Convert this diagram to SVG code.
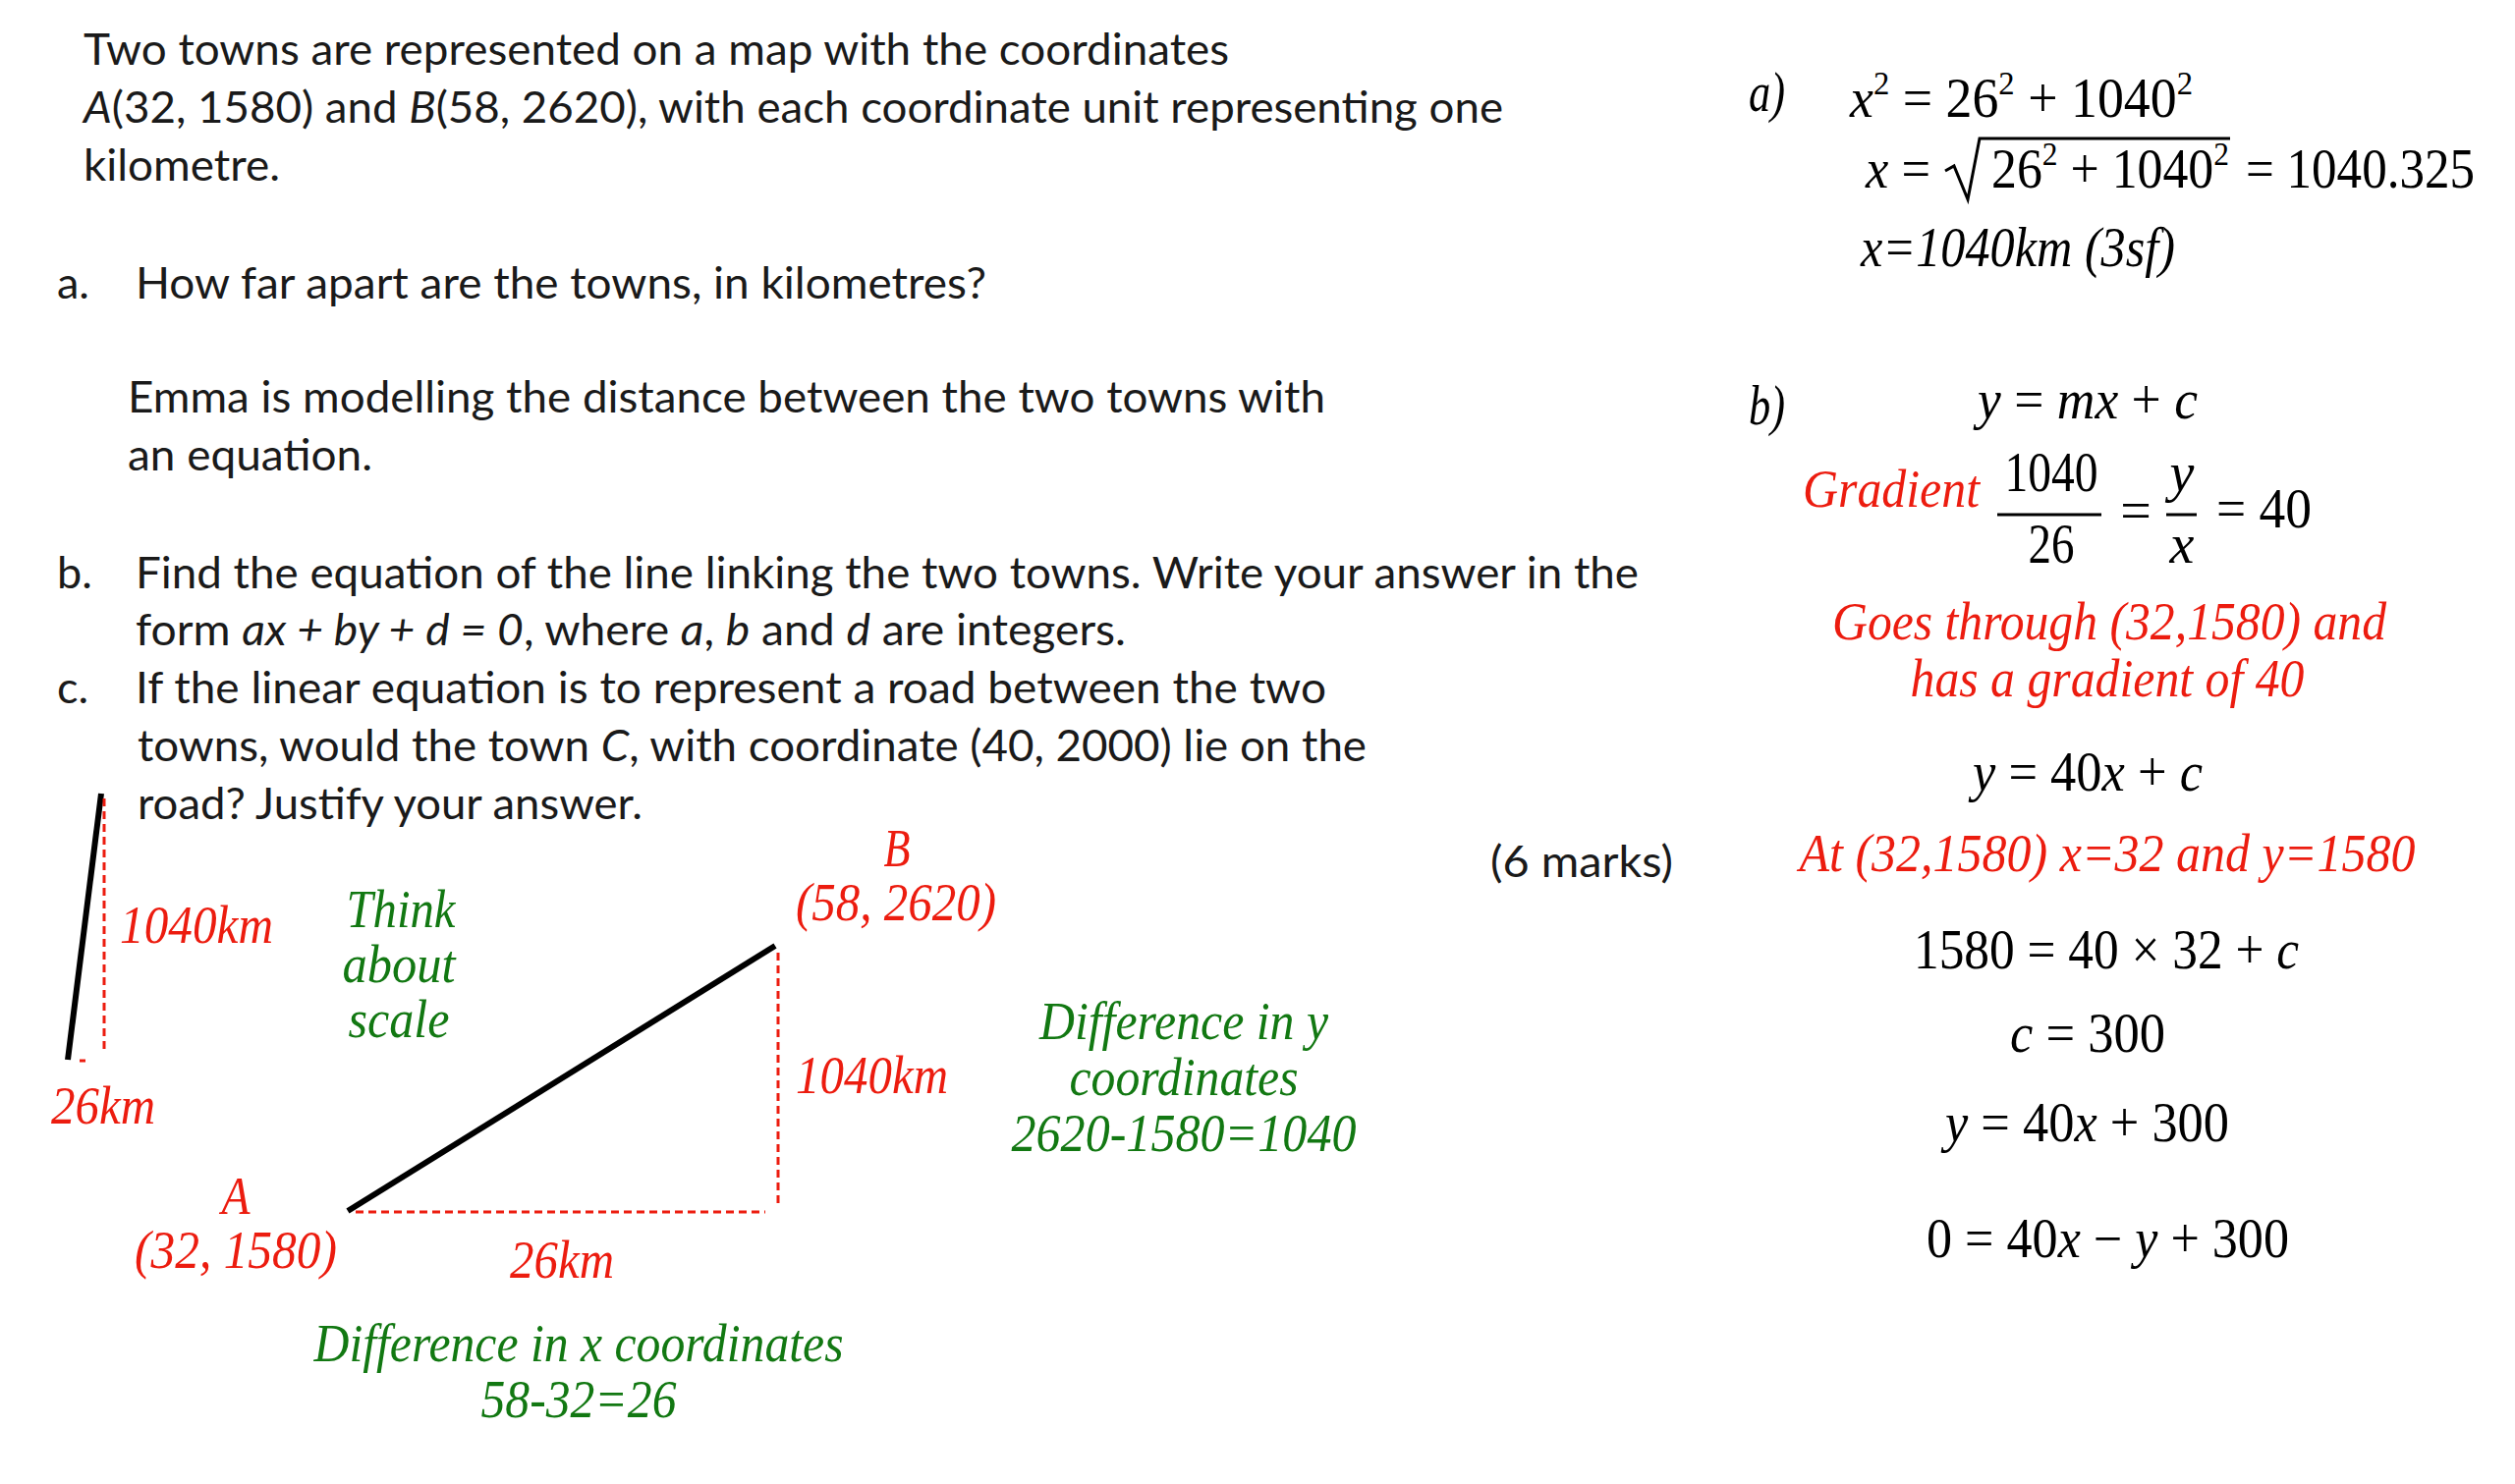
<svg xmlns="http://www.w3.org/2000/svg" width="2560" height="1511" viewBox="0 0 2560 1511">
<style>
.q{font-family:Lato,"Liberation Sans",sans-serif;font-size:45px;fill:#1a1a1a}
.i{font-style:italic}
.m{font-family:"Liberation Serif","Times New Roman",serif;font-size:56px;fill:#000}
.sup{font-size:34px}
.red{font-family:"Liberation Serif","Times New Roman",serif;font-style:italic;font-size:55px;fill:#ec1c0f}
.grn{font-family:"Liberation Serif","Times New Roman",serif;font-style:italic;font-size:55px;fill:#127812}
.c{text-anchor:middle}
.dash{stroke:#ec1c0f;stroke-width:3;stroke-dasharray:8 5;fill:none}
.road{stroke:#000;stroke-width:6;fill:none}
</style>
<rect width="2560" height="1511" fill="#fff"/>

<g id="question">
<text class="q" x="85" y="66" textLength="1166" lengthAdjust="spacingAndGlyphs">Two towns are represented on a map with the coordinates</text>
<text class="q" x="85" y="125" textLength="1445" lengthAdjust="spacingAndGlyphs"><tspan class="i">A</tspan>(32, 1580) and <tspan class="i">B</tspan>(58, 2620), with each coordinate unit representing one</text>
<text class="q" x="85" y="184" textLength="200" lengthAdjust="spacingAndGlyphs">kilometre.</text>
<text class="q" x="58" y="304">a.</text>
<text class="q" x="138" y="304" textLength="866" lengthAdjust="spacingAndGlyphs">How far apart are the towns, in kilometres?</text>
<text class="q" x="130" y="420" textLength="1219" lengthAdjust="spacingAndGlyphs">Emma is modelling the distance between the two towns with</text>
<text class="q" x="130" y="479" textLength="249" lengthAdjust="spacingAndGlyphs">an equation.</text>
<text class="q" x="58" y="599">b.</text>
<text class="q" x="138" y="599" textLength="1530" lengthAdjust="spacingAndGlyphs">Find the equation of the line linking the two towns. Write your answer in the</text>
<text class="q" x="138" y="657" textLength="1008" lengthAdjust="spacingAndGlyphs">form <tspan class="i">ax + by + d = 0</tspan>, where <tspan class="i">a</tspan>, <tspan class="i">b</tspan> and <tspan class="i">d</tspan> are integers.</text>
<text class="q" x="58" y="716">c.</text>
<text class="q" x="138" y="716" textLength="1212" lengthAdjust="spacingAndGlyphs">If the linear equation is to represent a road between the two</text>
<text class="q" x="140" y="775" textLength="1251" lengthAdjust="spacingAndGlyphs">towns, would the town <tspan class="i">C</tspan>, with coordinate (40, 2000) lie on the</text>
<text class="q" x="140" y="834" textLength="514" lengthAdjust="spacingAndGlyphs">road? Justify your answer.</text>
<text class="q" x="1517" y="893" textLength="186" lengthAdjust="spacingAndGlyphs">(6 marks)</text>
</g>

<g id="connectors">
<line class="road" x1="103" y1="808" x2="69" y2="1079"/>
<line class="dash" x1="106" y1="813" x2="106" y2="1073"/>
<line x1="81" y1="1080" x2="87" y2="1080" stroke="#ec1c0f" stroke-width="3"/>
<line class="road" x1="354" y1="1233" x2="789" y2="963"/>
<line class="dash" x1="792" y1="970" x2="792" y2="1228"/>
<line class="dash" x1="362" y1="1234" x2="779" y2="1234"/>
</g>

<g id="scale-labels">
<text class="red" x="122" y="960" textLength="156" lengthAdjust="spacingAndGlyphs">1040km</text>
<text class="red" x="52" y="1144" textLength="106" lengthAdjust="spacingAndGlyphs">26km</text>
</g>

<g id="think-note">
<text class="grn c" x="408" y="944" textLength="111" lengthAdjust="spacingAndGlyphs">Think</text>
<text class="grn c" x="406" y="1000" textLength="115" lengthAdjust="spacingAndGlyphs">about</text>
<text class="grn c" x="406" y="1056" textLength="103" lengthAdjust="spacingAndGlyphs">scale</text>
</g>

<g id="town-b">
<text class="red c" x="913" y="882" textLength="27" lengthAdjust="spacingAndGlyphs">B</text>
<text class="red c" x="912" y="937" textLength="204" lengthAdjust="spacingAndGlyphs">(58, 2620)</text>
</g>

<g id="town-a">
<text class="red c" x="240" y="1236" textLength="29" lengthAdjust="spacingAndGlyphs">A</text>
<text class="red c" x="240" y="1291" textLength="206" lengthAdjust="spacingAndGlyphs">(32, 1580)</text>
</g>

<g id="triangle-labels">
<text class="red" x="810" y="1113" textLength="155" lengthAdjust="spacingAndGlyphs">1040km</text>
<text class="red c" x="572" y="1301" textLength="106" lengthAdjust="spacingAndGlyphs">26km</text>
<text class="grn c" x="1205" y="1058" textLength="294" lengthAdjust="spacingAndGlyphs">Difference in y</text>
<text class="grn c" x="1205" y="1115" textLength="233" lengthAdjust="spacingAndGlyphs">coordinates</text>
<text class="grn c" x="1205" y="1172" textLength="351" lengthAdjust="spacingAndGlyphs">2620-1580=1040</text>
<text class="grn c" x="589" y="1386" textLength="539" lengthAdjust="spacingAndGlyphs">Difference in x coordinates</text>
<text class="grn c" x="589" y="1443" textLength="199" lengthAdjust="spacingAndGlyphs">58-32=26</text>
</g>

<g id="answer-a">
<text class="m i" x="1780" y="113" textLength="37" lengthAdjust="spacingAndGlyphs">a)</text>
<text class="m" x="1883" y="119" textLength="349" lengthAdjust="spacingAndGlyphs"><tspan class="i">x</tspan><tspan class="sup" dy="-23">2</tspan><tspan dy="23"> = 26</tspan><tspan class="sup" dy="-23">2</tspan><tspan dy="23"> + 1040</tspan><tspan class="sup" dy="-23">2</tspan></text>
<text class="m" x="1899" y="191" textLength="66" lengthAdjust="spacingAndGlyphs"><tspan class="i">x</tspan> =</text>
<path d="M1980 174 L1989 169 L2003 203 L2015 141 L2270 141" fill="none" stroke="#000" stroke-width="3"/>
<text class="m" x="2027" y="191" textLength="242" lengthAdjust="spacingAndGlyphs">26<tspan class="sup" dy="-23">2</tspan><tspan dy="23"> + 1040</tspan><tspan class="sup" dy="-23">2</tspan></text>
<text class="m" x="2286" y="191" textLength="233" lengthAdjust="spacingAndGlyphs">= 1040.325</text>
<text class="m i" x="1894" y="271" textLength="320" lengthAdjust="spacingAndGlyphs">x=1040km (3sf)</text>
</g>

<g id="answer-b">
<text class="m i" x="1780" y="432" textLength="37" lengthAdjust="spacingAndGlyphs">b)</text>
<text class="m" x="2013" y="426" textLength="224" lengthAdjust="spacingAndGlyphs"><tspan class="i">y</tspan> = <tspan class="i">mx</tspan> + <tspan class="i">c</tspan></text>
<text class="red" x="1835" y="516" textLength="180" lengthAdjust="spacingAndGlyphs">Gradient</text>
<text class="m c" x="2088" y="500" textLength="95" lengthAdjust="spacingAndGlyphs">1040</text>
<line x1="2033" y1="524" x2="2139" y2="524" stroke="#000" stroke-width="3"/>
<text class="m c" x="2088" y="573" textLength="47" lengthAdjust="spacingAndGlyphs">26</text>
<text class="m c" x="2174" y="539">=</text>
<text class="m c i" x="2221" y="500">y</text>
<line x1="2205" y1="524" x2="2236" y2="524" stroke="#000" stroke-width="3"/>
<text class="m c i" x="2221" y="573">x</text>
<text class="m" x="2256" y="537" textLength="97" lengthAdjust="spacingAndGlyphs">= 40</text>
<text class="red c" x="2147" y="651" textLength="564" lengthAdjust="spacingAndGlyphs">Goes through (32,1580) and</text>
<text class="red c" x="2145" y="709" textLength="401" lengthAdjust="spacingAndGlyphs">has a gradient of 40</text>
<text class="m" x="2008" y="805" textLength="234" lengthAdjust="spacingAndGlyphs"><tspan class="i">y</tspan> = 40<tspan class="i">x</tspan> + <tspan class="i">c</tspan></text>
<text class="red c" x="2145" y="887" textLength="627" lengthAdjust="spacingAndGlyphs">At (32,1580) x=32 and y=1580</text>
<text class="m" x="1948" y="986" textLength="392" lengthAdjust="spacingAndGlyphs">1580 = 40 × 32 + <tspan class="i">c</tspan></text>
<text class="m" x="2046" y="1071" textLength="158" lengthAdjust="spacingAndGlyphs"><tspan class="i">c</tspan> = 300</text>
<text class="m" x="1980" y="1162" textLength="289" lengthAdjust="spacingAndGlyphs"><tspan class="i">y</tspan> = 40<tspan class="i">x</tspan> + 300</text>
<text class="m" x="1961" y="1280" textLength="369" lengthAdjust="spacingAndGlyphs">0 = 40<tspan class="i">x</tspan> − <tspan class="i">y</tspan> + 300</text>
</g>
</svg>
